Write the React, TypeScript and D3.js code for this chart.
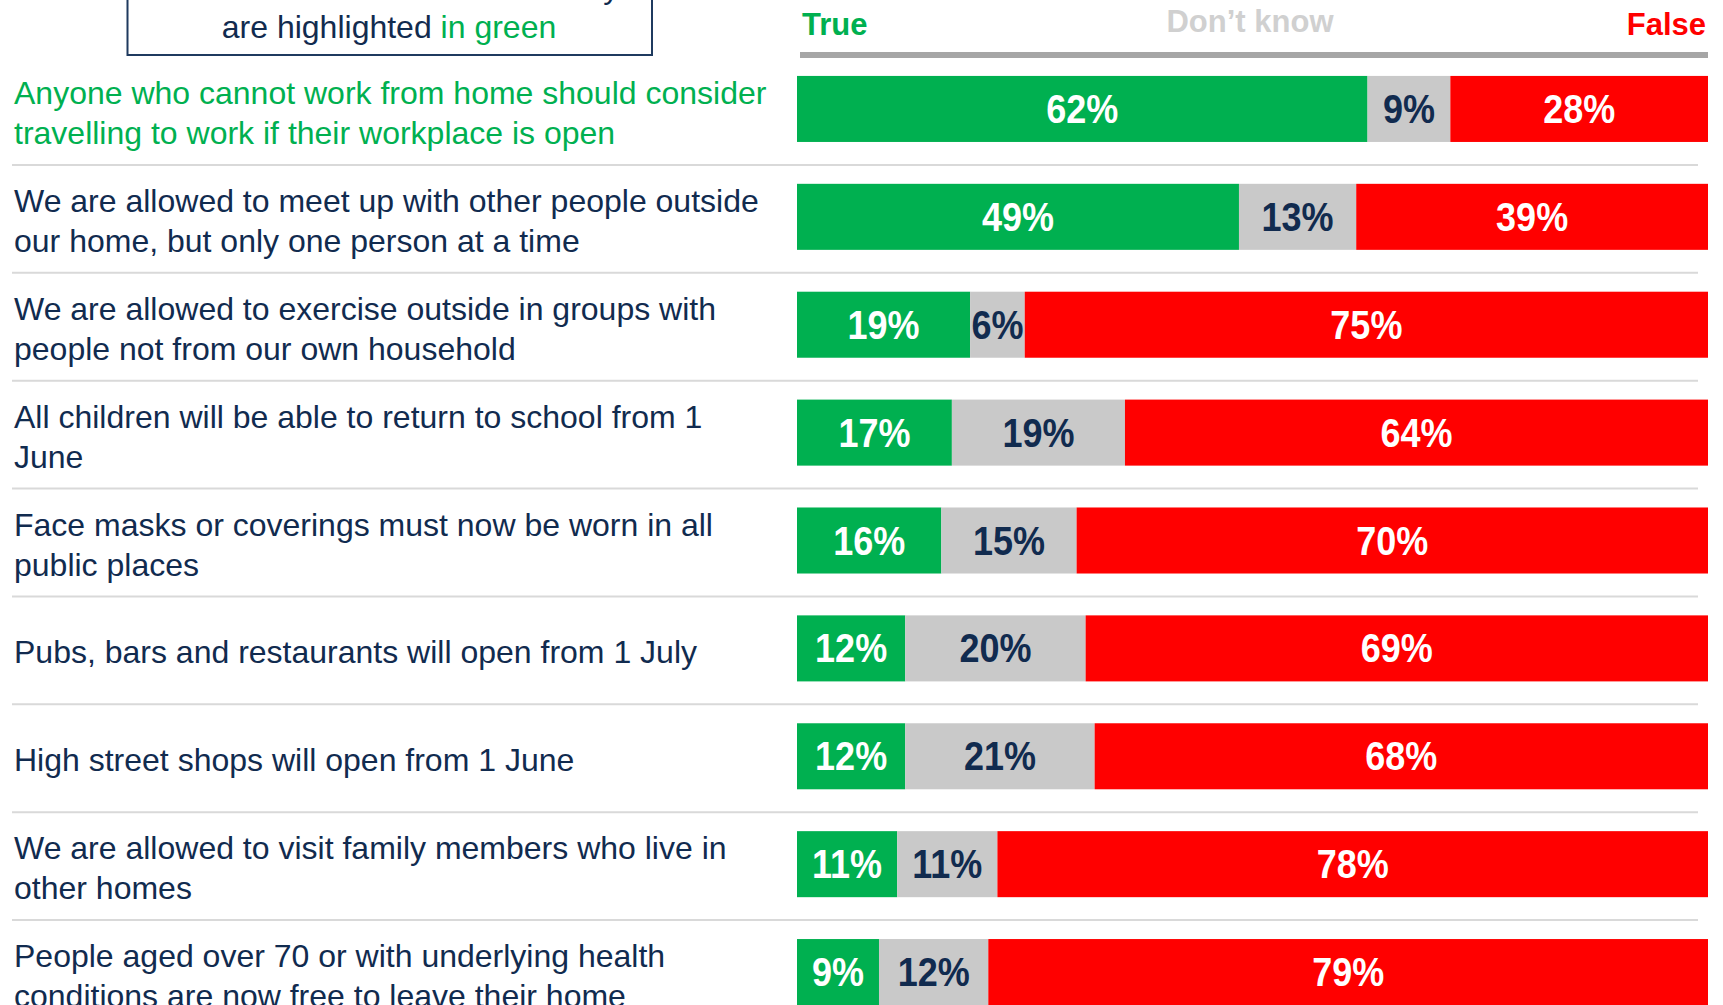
import React from "react";
import * as d3 from "d3";

const statements = [
  ["Anyone who cannot work from home should consider", "travelling to work if their workplace is open"],
  ["We are allowed to meet up with other people outside", "our home, but only one person at a time"],
  ["We are allowed to exercise outside in groups with", "people not from our own household"],
  ["All children will be able to return to school from 1", "June"],
  ["Face masks or coverings must now be worn in all", "public places"],
  ["Pubs, bars and restaurants will open from 1 July"],
  ["High street shops will open from 1 June"],
  ["We are allowed to visit family members who live in", "other homes"],
  ["People aged over 70 or with underlying health", "conditions are now free to leave their home"],
];
const trueVals = [62, 49, 19, 17, 16, 12, 12, 11, 9];
const dontKnowVals = [9, 13, 6, 19, 15, 20, 21, 11, 12];
const falseVals = [28, 39, 75, 64, 70, 69, 68, 78, 79];
const correctStatements = [0];
const seriesNames = ["True", "Don\u2019t know", "False"];
const boxLines = ["Correct statements in the survey", "are highlighted", "in green"];

const W = 1723;
const H = 1005;
const GREEN = "#00b050";
const RED = "#ff0000";
const GREY = "#c9c9c9";
const NAVY = "#112b4f";
const FONT = "'Liberation Sans', Arial, sans-serif";

export default function App() {
  const idx = statements.map((_, i) => i);
  const y = d3.scaleBand<number>().domain(idx).range([55, 1026]).paddingInner(0.388).paddingOuter(0.194);
  const bw = y.bandwidth();
  const step = y.step();
  const x0 = 797;
  const x1 = 1708;

  return (
    <svg width={W} height={H} style={{ position: "absolute", left: 0, top: 0, background: "#fff" }} fontFamily={FONT}>
      {/* note box */}
      <rect x={127.5} y={-30} width={524.5} height={85} fill="none" stroke="#1f3a5f" strokeWidth={2} />
      <text x={389} y={-2} textAnchor="middle" fontSize={32} fill={NAVY}>{boxLines[0]}</text>
      <text x={389} y={38} textAnchor="middle" fontSize={32} fill={NAVY}>
        {boxLines[1]} <tspan fill={GREEN}>{boxLines[2]}</tspan>
      </text>

      {/* header */}
      <text x={802} y={35} fontSize={31} fontWeight="bold" fill={GREEN}>{seriesNames[0]}</text>
      <text x={1250} y={32} fontSize={31} fontWeight="bold" fill="#d0d0d0" textAnchor="middle">{seriesNames[1]}</text>
      <text x={1706} y={35} fontSize={31} fontWeight="bold" fill={RED} textAnchor="end">{seriesNames[2]}</text>
      <rect x={800} y={52} width={908} height={6} fill="#a6a6a6" />

      {idx.map((i) => {
        const vals = [trueVals[i], dontKnowVals[i], falseVals[i]];
        const total = d3.sum(vals);
        const x = d3.scaleLinear().domain([0, total]).range([x0, x1]);
        const cum = [0, vals[0], vals[0] + vals[1]];
        const top = y(i)!;
        const cy = top + bw / 2;
        const colors = [GREEN, GREY, RED];
        const textColors = ["#fff", NAVY, "#fff"];
        const lines = statements[i];
        const hl = correctStatements.includes(i);
        const sepY = top + bw + (step - bw) / 2 + 2;
        return (
          <g key={i}>
            {vals.map((v, k) => (
              <rect key={k} x={x(cum[k])} y={top} width={x(cum[k] + v) - x(cum[k])} height={bw} fill={colors[k]} />
            ))}
            {vals.map((v, k) => {
              const mx = (x(cum[k]) + x(cum[k] + v)) / 2;
              return (
                <text key={"t" + k} transform={`translate(${mx},${cy + 14}) scale(0.9,1)`} textAnchor="middle"
                  fontSize={40} fontWeight="bold" fill={textColors[k]}>{v + "%"}</text>
              );
            })}
            {lines.map((ln, j) => {
              const ly = cy + 4 + (j - (lines.length - 1) / 2) * 40 + 11;
              return (
                <text key={"l" + j} x={14} y={ly} fontSize={32} fill={hl ? GREEN : NAVY}>{ln}</text>
              );
            })}
            {i < statements.length - 1 && (
              <line x1={12} x2={1698} y1={sepY} y2={sepY} stroke="#d9d9d9" strokeWidth={2} />
            )}
          </g>
        );
      })}
    </svg>
  );
}
